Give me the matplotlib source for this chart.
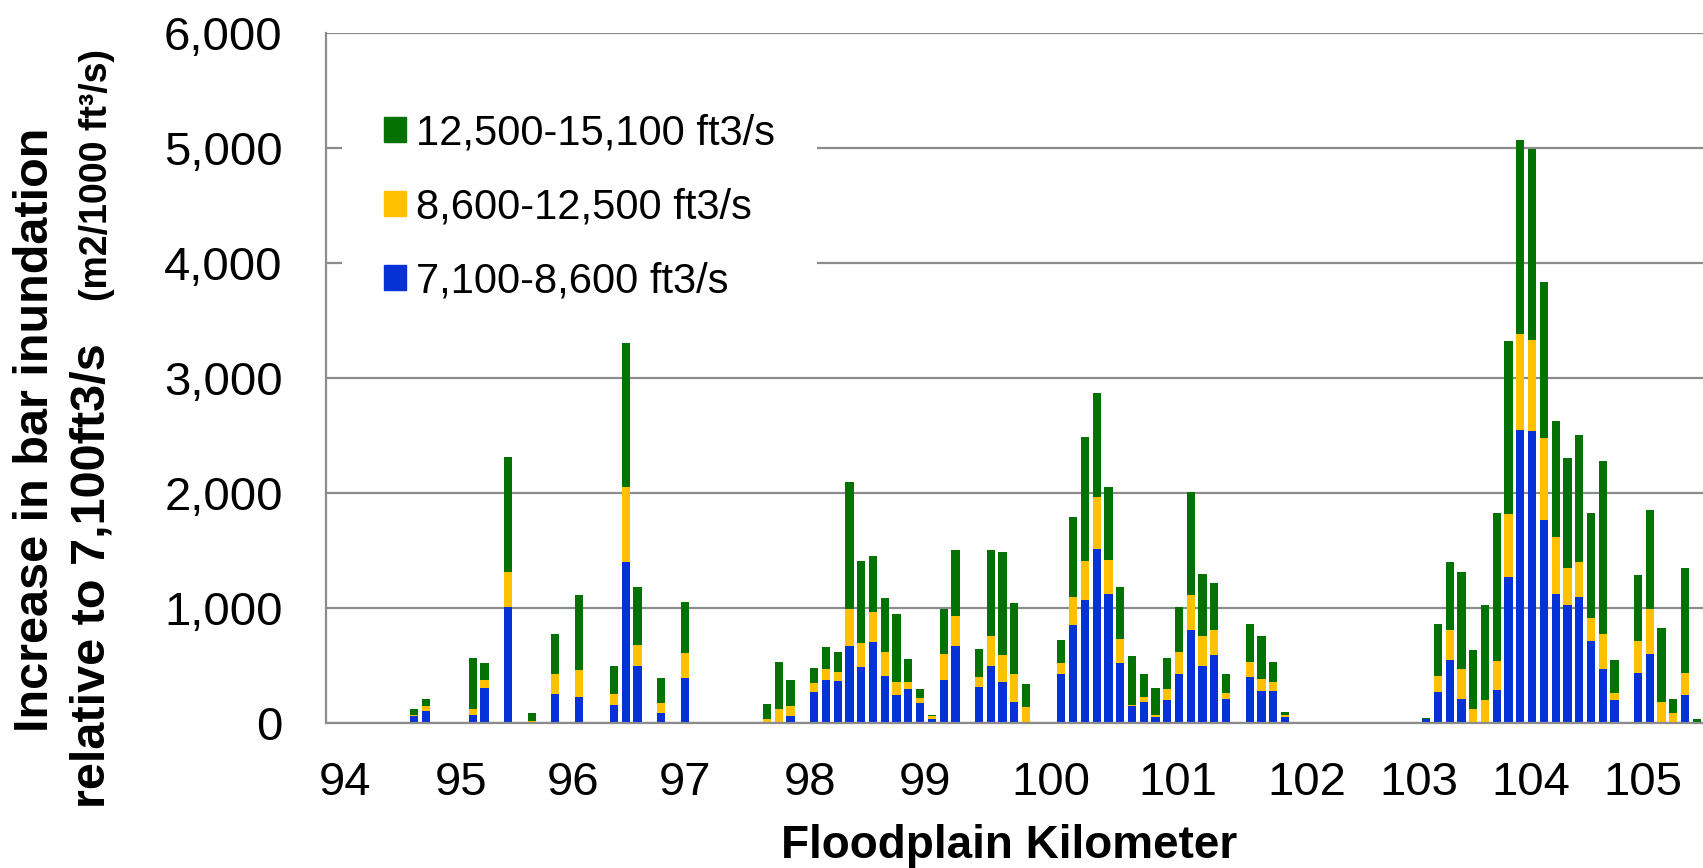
import numpy as np
import matplotlib
matplotlib.use("Agg")
import matplotlib.pyplot as plt
from matplotlib.patches import Patch

plt.rcParams['font.family'] = ['Liberation Sans', 'DejaVu Sans']

# bar slots along the floodplain (0.1 km each), only non-empty ones listed
n_slots = 117
slot = [7, 8, 12, 13, 15, 17, 19, 21, 24, 25, 26, 28, 30,
        37, 38, 39, 41, 42, 43, 44, 45, 46, 47, 48, 49, 50, 51, 52, 53,
        55, 56, 57, 58, 59, 62, 63, 64, 65, 66, 67, 68, 69, 70, 71, 72,
        73, 74, 75, 76, 78, 79, 80, 81,
        93, 94, 95, 96, 97, 98, 99, 100, 101, 102, 103, 104, 105, 106,
        107, 108, 109, 111, 112, 113, 114, 115, 116]

# 7,100-8,600 ft3/s
q_low = [67, 107, 72, 304, 1009, 5, 258, 229, 162, 1403, 501, 90, 391,
         0, 0, 67, 275, 377, 368, 672, 490, 710, 414, 249, 296, 180, 41, 377, 675,
         319, 501, 357, 188, 12, 429, 855, 1075, 1516, 1119, 525, 154, 188, 58, 203, 429,
         812, 499, 594, 212, 403, 284, 278, 55,
         35, 271, 546, 215, 0, 8, 290, 1269, 2546, 2535, 1763, 1126, 1024, 1100,
         716, 475, 200, 433, 599, 0, 0, 249, 0]
# 8,600-12,500 ft3/s
q_mid = [5, 41, 53, 76, 304, 18, 171, 232, 96, 649, 183, 87, 218,
         38, 122, 87, 73, 95, 75, 322, 209, 258, 203, 110, 61, 40, 23, 226, 255,
         84, 261, 240, 238, 127, 92, 246, 331, 446, 301, 203, 8, 38, 14, 96, 188,
         301, 263, 215, 55, 133, 99, 84, 20,
         0, 136, 264, 260, 124, 192, 249, 546, 840, 798, 719, 490, 328, 301,
         195, 297, 64, 279, 392, 181, 90, 188, 0]
# 12,500-15,100 ft3/s
q_high = [50, 66, 443, 142, 997, 70, 348, 655, 238, 1342, 496, 214, 443,
          133, 408, 220, 136, 189, 177, 1102, 713, 487, 473, 589, 202, 79, 8, 394, 577,
          240, 745, 890, 620, 200, 200, 693, 1081, 908, 635, 455, 421, 200, 235, 269, 395,
          896, 534, 408, 165, 328, 374, 174, 26,
          10, 455, 591, 836, 513, 824, 1284, 1503, 1680, 1658, 1352, 1013, 949, 1104,
          912, 1510, 290, 572, 866, 648, 117, 908, 41]

km_labels = ['94', '95', '96', '97', '98', '99', '100', '101', '102', '103', '104', '105']
km_label_slot = [1.17, 10.99, 20.51, 30.03, 40.65, 50.42, 61.12, 71.91, 82.83, 92.39, 101.9, 111.42]

c_low = '#0532d7'
c_mid = '#ffc000'
c_high = '#037203'
grid_c = '#8c8c8c'

x = np.arange(n_slots)
low = np.zeros(n_slots)
mid = np.zeros(n_slots)
high = np.zeros(n_slots)
low[slot] = q_low
mid[slot] = q_mid
high[slot] = q_high

W, H = 1703, 868
fig = plt.figure(figsize=(W / 100, H / 100), dpi=100)
ax = fig.add_axes([325.7 / W, 1 - 723.3 / H, 1 - 325.7 / W, (723.3 - 32.6) / H])

bw = 0.7
ax.bar(x, low, bw, color=c_low, linewidth=0)
ax.bar(x, mid, bw, bottom=low, color=c_mid, linewidth=0)
ax.bar(x, high, bw, bottom=low + mid, color=c_high, linewidth=0)

ax.set_xlim(-0.5, (W - 325.7) / 11.77 - 0.5)
ax.set_ylim(0, 6000)
ax.set_yticks(np.arange(0, 6001, 1000))
ax.yaxis.set_major_formatter(matplotlib.ticker.StrMethodFormatter('{x:,.0f}'))
ax.set_xticks(km_label_slot, km_labels)
ax.tick_params(axis='both', length=0, labelsize=34)
ax.tick_params(axis='y', pad=31)
ax.tick_params(axis='x', pad=27)

ax.yaxis.grid(True, color=grid_c, linewidth=1.6)
ax.set_axisbelow(True)
for s in ['top', 'right']:
    ax.spines[s].set_visible(False)
for s in ['left', 'bottom']:
    ax.spines[s].set_color(grid_c)
    ax.spines[s].set_linewidth(1.6)

handles = [Patch(color=c_high, label='12,500-15,100 ft3/s'),
           Patch(color=c_mid, label='8,600-12,500 ft3/s'),
           Patch(color=c_low, label='7,100-8,600 ft3/s')]
leg = ax.legend(handles=handles, loc='upper left',
                bbox_to_anchor=(321 / W, 1 - 51 / H), bbox_transform=fig.transFigure,
                fontsize=30, handlelength=0.53, handleheight=0.53, handletextpad=0.26,
                labelspacing=0.81, borderpad=1.0, frameon=True, fancybox=False,
                framealpha=1, facecolor='white', edgecolor='none')

# axis titles
fig.text(36 / W, 1 - 430 / H, 'Increase in bar inundation', rotation=90,
         ha='center', va='center', fontsize=35, fontweight='bold')
fig.text(92 / W, 1 - 576 / H, 'relative to 7,100ft3/s', rotation=90,
         ha='center', va='center', fontsize=35, fontweight='bold')
fig.text(97 / W, 1 - 175 / H, '(m2/1000 ft³/s)', rotation=90,
         ha='center', va='center', fontsize=27, fontweight='bold')
fig.text(1009 / W, 1 - 846 / H, 'Floodplain Kilometer', ha='center', va='center',
         fontsize=33, fontweight='bold')

fig.savefig('out.png', dpi=100)
